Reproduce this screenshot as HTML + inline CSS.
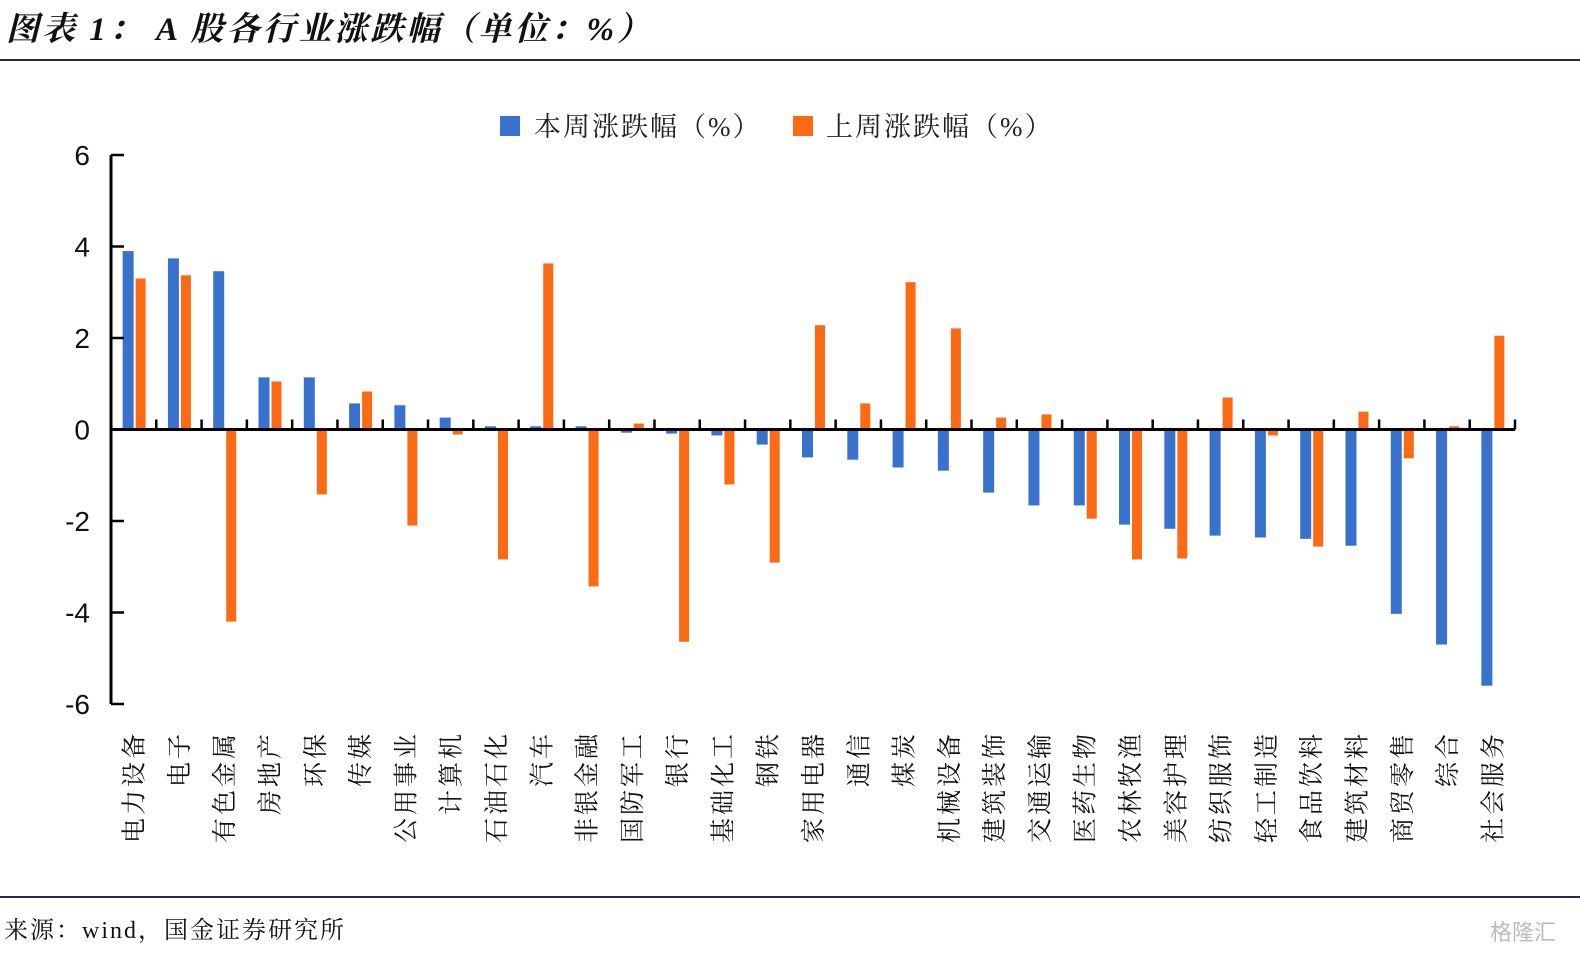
<!DOCTYPE html>
<html><head><meta charset="utf-8">
<style>
html,body{margin:0;padding:0;background:#fff;width:1580px;height:960px;overflow:hidden;font-family:"Liberation Sans","Noto Sans CJK SC",sans-serif;}
svg{display:block}
</style></head><body>
<svg width="1580" height="960" xmlns="http://www.w3.org/2000/svg">
<text x="6" y="40" font-size="33" letter-spacing="3" font-weight="bold" font-style="italic" fill="#111" font-family="'Liberation Serif','Noto Serif CJK SC',serif">图表 1： A 股各行业涨跌幅（单位：%）</text>
<line x1="0" y1="60" x2="1580" y2="60" stroke="#1f2d55" stroke-width="2"/>
<g>
<rect x="500" y="116" width="20" height="20" fill="#3872cc"/>
<text x="534" y="136" font-size="27" letter-spacing="2" fill="#222" font-family="'Liberation Serif','Noto Serif CJK SC',serif">本周涨跌幅（%）</text>
<rect x="793" y="116" width="20" height="20" fill="#fc6a14"/>
<text x="826" y="136" font-size="27" letter-spacing="2" fill="#222" font-family="'Liberation Serif','Noto Serif CJK SC',serif">上周涨跌幅（%）</text>
</g>
<g id="plot"></g>
<line x1="0" y1="897" x2="1580" y2="897" stroke="#1f2d55" stroke-width="2"/>
<text x="4" y="938" font-size="24" letter-spacing="2" fill="#111" font-family="'Liberation Serif','Noto Serif CJK SC',serif">来源：wind，国金证券研究所</text>
<text x="1490" y="940" font-size="22" fill="#bbb">格隆汇</text>
</svg>
<script>
const categories=["电力设备","电子","有色金属","房地产","环保","传媒","公用事业","计算机","石油石化","汽车","非银金融","国防军工","银行","基础化工","钢铁","家用电器","通信","煤炭","机械设备","建筑装饰","交通运输","医药生物","农林牧渔","美容护理","纺织服饰","轻工制造","食品饮料","建筑材料","商贸零售","综合","社会服务"];
const thisWeek=[3.9,3.74,3.46,1.14,1.14,0.57,0.53,0.26,0.07,0.07,0.07,-0.07,-0.09,-0.13,-0.33,-0.61,-0.66,-0.83,-0.9,-1.38,-1.66,-1.66,-2.08,-2.17,-2.32,-2.36,-2.39,-2.54,-4.03,-4.7,-5.6];
const lastWeek=[3.3,3.37,-4.2,1.05,-1.42,0.83,-2.1,-0.11,-2.84,3.63,-3.43,0.13,-4.64,-1.2,-2.91,2.28,0.57,3.22,2.21,0.26,0.33,-1.95,-2.84,-2.82,0.7,-0.13,-2.56,0.39,-0.63,0.07,2.05];
const yTicks=[6,4,2,0,-2,-4,-6];
const NS="http://www.w3.org/2000/svg";
const g=document.getElementById('plot');
const X0=111,X1=1515,Y6=155,Ym6=704;
const y=v=>Y6+(6-v)*(Ym6-Y6)/12;
const band=(X1-X0)/categories.length;
const xc=i=>X0+band*(i+0.5);
function mk(t,a){const e=document.createElementNS(NS,t);for(const k in a)e.setAttribute(k,a[k]);g.appendChild(e);return e;}
categories.forEach((c,i)=>{
  const b=mk('rect',{x:xc(i)-11,y:Math.min(y(thisWeek[i]),y(0)),width:11,height:Math.abs(y(thisWeek[i])-y(0)),fill:'#3872cc'});
  
  
  const o=mk('rect',{x:xc(i)+2,y:Math.min(y(lastWeek[i]),y(0)),width:10,height:Math.abs(y(lastWeek[i])-y(0)),fill:'#fc6a14'});
  
  
  const tk=mk('line',{x1:X0+band*(i+1),x2:X0+band*(i+1),y1:y(0)-10,y2:y(0),stroke:'#000','stroke-width':2.5});
  
  
  const t=mk('text',{x:0,y:0,'font-size':25,'letter-spacing':3,fill:'#111','text-anchor':'end','font-family':"'Liberation Serif','Noto Serif CJK SC',serif",transform:`translate(${xc(i)+9},731) rotate(-90)`});
  t.textContent=c;
  
  
});
yTicks.forEach(v=>{
  const l=mk('line',{x1:X0,x2:X0+13,y1:y(v),y2:y(v),stroke:'#000','stroke-width':2.5});
  
  
  const t=mk('text',{x:90,y:y(v)+10,'font-size':28,fill:'#111','text-anchor':'end'});
  t.textContent=v;
  
  
});
const ya=mk('line',{x1:X0,x2:X0,y1:Y6,y2:Ym6,stroke:'#000','stroke-width':3});


const xa=mk('line',{x1:X0,x2:X1,y1:y(0),y2:y(0),stroke:'#000','stroke-width':3});


</script>
</body></html>
